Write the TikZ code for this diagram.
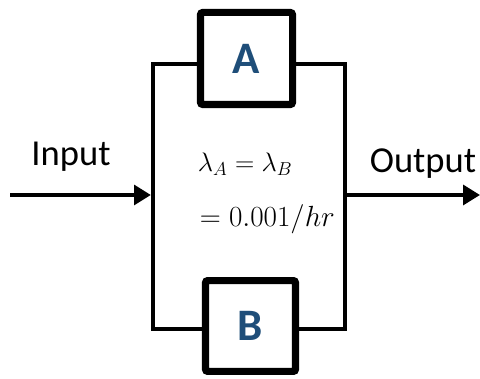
\RequirePackage{fix-cm}
\documentclass[tikz,border=0pt]{standalone}
\usepackage[no-math]{fontspec}
\newfontfamily\labelfont{Carlito}
\usepackage{xcolor}
\usetikzlibrary{positioning, arrows.meta}
\definecolor{unitblue}{RGB}{31,78,121}

\begin{document}
\begin{tikzpicture}[x=0.025cm, y=0.025cm,
        unit/.style={draw, line width=5pt, rounded corners=1.5pt, minimum width=2.3cm, minimum height=2.3cm,
            font=\labelfont\bfseries\fontsize{32}{36}\selectfont, text=unitblue},
        wire/.style={line width=2.8pt},
        flow/.style={line width=2.8pt, -{Triangle[length=12pt, width=14pt]}},
        tag/.style={font=\labelfont\fontsize{26}{30}\selectfont, anchor=base},
        rate/.style={font=\fontsize{20.74}{25}\selectfont, anchor=base west}]
        \useasboundingbox (0,0) rectangle (480,379);

        % Parallel units
        \node[unit] (A) at (246.5,320.5) {A};
        \node[unit, minimum width=2.25cm, minimum height=2.27cm] (B) at (250.5,53) {B};

        % Wiring
        \coordinate (tl) at (153,315);
        \coordinate (tr) at (345,315);
        \coordinate (bl) at (153,50);
        \coordinate (br) at (345,50);
        \coordinate (in) at (10,184);
        \coordinate (out) at (480,184);
        \draw[wire] (A.west |- tl) -- (tl) -- (bl) -- (B.west |- bl);
        \draw[wire] (A.east |- tr) -- (tr) -- (br) -- (B.east |- br);
        \draw[flow] (in) -- ([xshift=-1.5pt]tl |- in);
        \draw[flow] (tr |- out) -- (out);

        % Labels
        \node[tag] (inlabel) at (71,213) {Input};
        \node[tag] (outlabel) at (423,206) {Output};
        \node[rate, font=\fontsize{19}{23}\selectfont] (rateA) at (193,207) {$\lambda_A = \lambda_B$};
        \node[rate] (rateB) at (195,152) {$= 0.001/hr$};
    \end{tikzpicture}
\end{document}
